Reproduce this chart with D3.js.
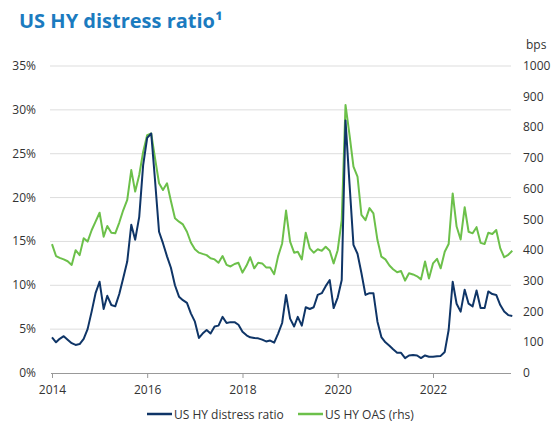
<!DOCTYPE html>
<html>
<head>
<meta charset="utf-8">
<script src="https://cdn.jsdelivr.net/npm/d3@7"></script>
<style>
  html, body { margin: 0; padding: 0; background: #fff; }
  svg { display: block; font-family: "Open Sans", sans-serif; }
</style>
</head>
<body>
<svg id="chart" width="557" height="421"></svg>
<script>
// ---- data (monthly, Jan 2014 – Sep 2023) ----
const startMonth = new Date(2014, 0, 1);
const endMonth = new Date(2023, 9, 1); // exclusive
const distressRatio = [
  4.07, 3.5, 3.9, 4.2, 3.8, 3.4, 3.2, 3.3, 3.9, 5.0, 7.0, 9.1,
  10.4, 7.3, 8.8, 7.75, 7.6, 9.0, 10.8, 12.7, 16.9, 15.2, 17.8, 23.7,
  26.8, 27.3, 22.0, 16.1, 14.8, 13.3, 12.0, 10.0, 8.7, 8.3, 8.0, 6.8,
  5.85, 4.0, 4.5, 4.9, 4.5, 5.3, 5.4, 6.4, 5.7, 5.8, 5.8, 5.5,
  4.7, 4.3, 4.07, 4.0, 3.95, 3.8, 3.6, 3.7, 3.46, 4.5, 5.7, 8.9,
  6.2, 5.3, 6.4, 5.4, 7.5, 7.3, 7.5, 8.9, 9.1, 9.9, 10.6, 7.4,
  8.6, 10.6, 28.8, 21.5, 14.6, 13.6, 11.4, 8.9, 9.1, 9.1, 5.85, 4.1,
  3.5, 3.1, 2.7, 2.3, 2.3, 1.7, 2.0, 2.05, 2.0, 1.7, 2.0, 1.85,
  1.85, 1.9, 1.95, 2.4, 4.9, 10.4, 7.9, 7.0, 9.5, 7.9, 7.6, 9.4,
  7.4, 7.4, 9.3, 9.0, 8.9, 7.75, 7.0, 6.6, 6.5
];
const oasBps = [
  420, 381, 375, 370, 364, 352, 400, 384, 439, 428, 465, 493,
  522, 444, 479, 457, 455, 490, 530, 564, 661, 591, 645, 720,
  775, 780, 700, 618, 596, 618, 560, 504, 493, 484, 460, 425,
  403, 392, 388, 384, 374, 370, 359, 381, 352, 347, 355, 359,
  327, 350, 377, 341, 359, 357, 344, 344, 322, 380, 422, 529,
  428, 392, 395, 370, 457, 406, 392, 403, 398, 411, 398, 357,
  400, 498, 873, 775, 672, 640, 515, 498, 537, 520, 433, 379,
  370, 350, 338, 328, 332, 301, 325, 321, 315, 305, 363, 308,
  357, 372, 341, 395, 420, 585, 477, 435, 540, 460, 455, 475,
  424, 420, 457, 453, 466, 406, 377, 385, 398
];
const leftTicks = [0, 5, 10, 15, 20, 25, 30, 35];
const rightTicks = [0, 100, 200, 300, 400, 500, 600, 700, 800, 900, 1000];
const xTickYears = [2014, 2016, 2018, 2020, 2022];
const seriesNames = ["US HY distress ratio", "US HY OAS (rhs)"];
const titleText = "US HY distress ratio\u00B9";

const months = d3.timeMonths(startMonth, endMonth);

// ---- layout ----
const svg = d3.select("#chart");
const colDistress = "#0f3567";
const colOas = "#6cc04a";

const x = d3.scaleTime()
  .domain([new Date(2014, 0, 1), new Date(2022, 0, 1)])
  .range([52, 433]);
const yL = d3.scaleLinear().domain([0, 35]).range([373, 66]);
const yR = d3.scaleLinear().domain([0, 1000]).range([373, 66]);
const plotRight = 511;

// title
svg.append("text")
  .attr("x", 19).attr("y", 28)
  .attr("fill", "#1b7bbf")
  .attr("font-size", 20)
  .attr("font-weight", 700)
  .text(titleText);

// gridlines
svg.append("g").selectAll("line")
  .data(leftTicks.filter(d => d > 0))
  .join("line")
  .attr("x1", 50).attr("x2", plotRight)
  .attr("y1", d => yL(d)).attr("y2", d => yL(d))
  .attr("stroke", "#dddddd").attr("stroke-width", 1);

// left axis labels
svg.append("g").selectAll("text")
  .data(leftTicks)
  .join("text")
  .attr("x", 36).attr("y", d => yL(d) + 4)
  .attr("text-anchor", "end")
  .attr("font-size", 12).attr("fill", "#333")
  .text(d => d + "%");

// right axis labels
svg.append("g").selectAll("text")
  .data(rightTicks)
  .join("text")
  .attr("x", 523).attr("y", d => yR(d) + 4)
  .attr("text-anchor", "start")
  .attr("font-size", 12).attr("fill", "#333")
  .text(d => d);
svg.append("text")
  .attr("x", 526).attr("y", 49)
  .attr("font-size", 12).attr("fill", "#333")
  .text("bps");

// x axis
const xAxis = d3.axisBottom(x)
  .tickValues(xTickYears.map(yv => new Date(yv, 0, 1)))
  .tickFormat(d3.timeFormat("%Y"))
  .tickSizeInner(5).tickSizeOuter(0);
const gx = svg.append("g")
  .attr("transform", "translate(0,373)")
  .call(xAxis);
gx.select(".domain").remove();
gx.append("line")
  .attr("x1", 51).attr("x2", plotRight).attr("y1", 0.5).attr("y2", 0.5)
  .attr("stroke", "#999");
gx.selectAll(".tick line").attr("stroke", "#999");
gx.selectAll(".tick text")
  .attr("font-family", "Open Sans, sans-serif")
  .attr("font-size", 12).attr("fill", "#333").attr("dy", "1.05em");

// lines
const lineL = d3.line().x((d, i) => x(months[i])).y(d => yL(d));
const lineR = d3.line().x((d, i) => x(months[i])).y(d => yR(d));

svg.append("path").datum(oasBps)
  .attr("d", lineR).attr("fill", "none")
  .attr("stroke", colOas).attr("stroke-width", 2).attr("stroke-linejoin", "round");
svg.append("path").datum(distressRatio)
  .attr("d", lineL).attr("fill", "none")
  .attr("stroke", colDistress).attr("stroke-width", 2).attr("stroke-linejoin", "round");

// legend
const legend = [
  { name: seriesNames[0], color: colDistress, x: 147 },
  { name: seriesNames[1], color: colOas, x: 298 }
];
const lg = svg.append("g").selectAll("g").data(legend).join("g")
  .attr("transform", d => `translate(${d.x},414)`);
lg.append("line").attr("x1", 0).attr("x2", 25).attr("y1", 0).attr("y2", 0)
  .attr("stroke", d => d.color).attr("stroke-width", 2.5);
lg.append("text").attr("x", 27).attr("y", 4.5)
  .attr("font-size", 12).attr("fill", "#333")
  .text(d => d.name);
</script>
</body>
</html>
